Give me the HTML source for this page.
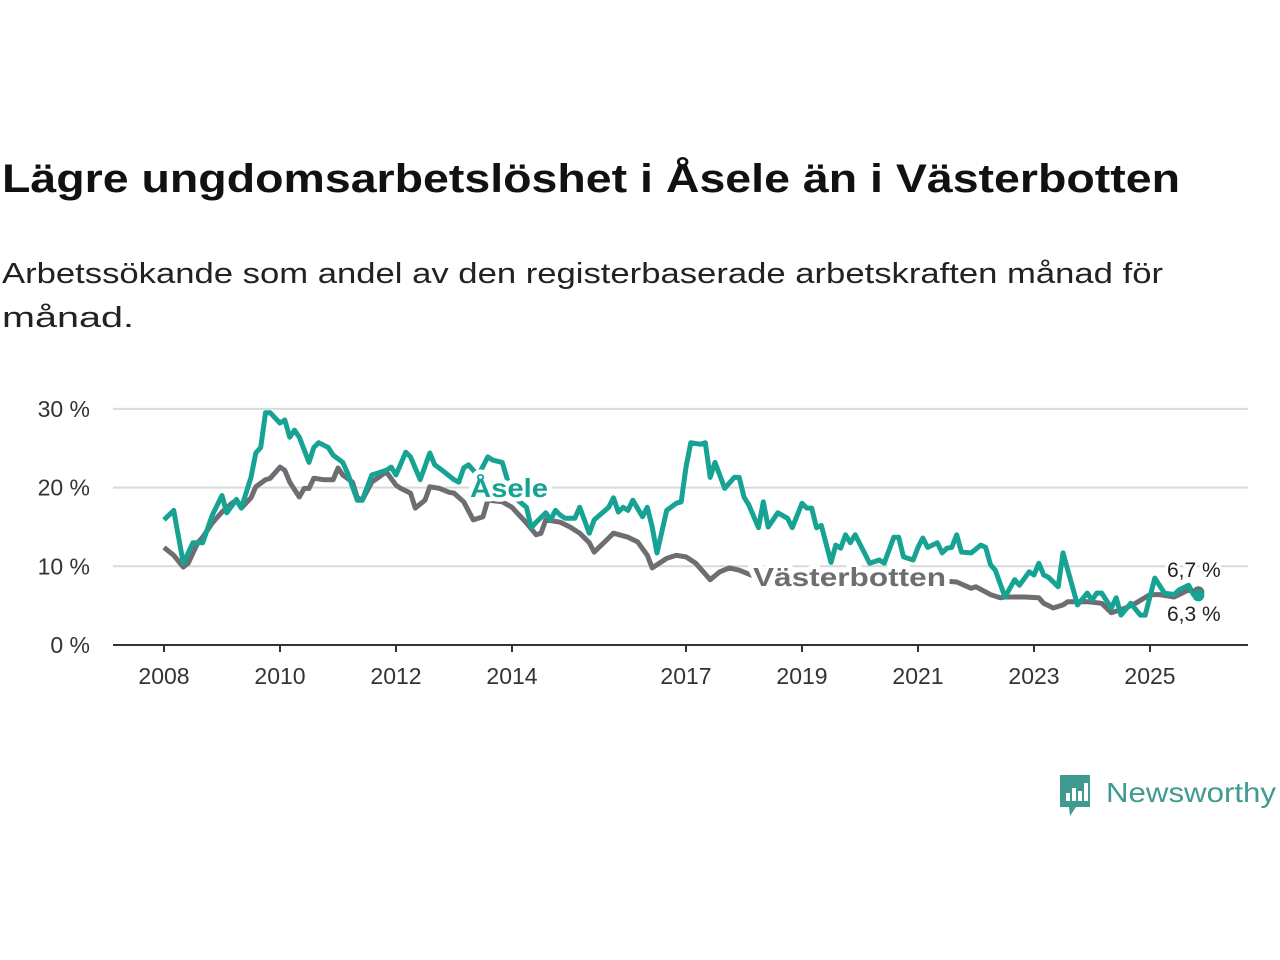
<!DOCTYPE html>
<html><head><meta charset="utf-8"><style>
html,body{margin:0;padding:0;background:#fff;}
svg{display:block;font-family:"Liberation Sans",sans-serif;}
</style></head><body>
<svg id="chart" width="1280" height="960" viewBox="0 0 1280 960">
<text x="2" y="192" font-size="40" font-weight="bold" fill="#111" textLength="1178" lengthAdjust="spacingAndGlyphs">Lägre ungdomsarbetslöshet i Åsele än i Västerbotten</text>
<text x="2" y="283" font-size="29" fill="#222" textLength="1161" lengthAdjust="spacingAndGlyphs">Arbetssökande som andel av den registerbaserade arbetskraften månad för</text>
<text x="2" y="327" font-size="29" fill="#222" textLength="132" lengthAdjust="spacingAndGlyphs">månad.</text>
<g id="grid"></g>
<g id="yticks"></g>
<g id="xticks"></g>
<g id="series"></g>
<g>
<path d="M1060 775 h30 v32 h-14 l-6 9 l-1 -9 h-9 z" fill="#3f9b8f"/>
<rect x="1066" y="793" width="4" height="8" fill="#fff"/>
<rect x="1072" y="788" width="4" height="13" fill="#fff"/>
<rect x="1078" y="791" width="4" height="10" fill="#fff"/>
<rect x="1084" y="783" width="4" height="18" fill="#fff"/>
<text x="1106" y="802" font-size="28" fill="#3f9b8f" textLength="170" lengthAdjust="spacingAndGlyphs">Newsworthy</text>
</g>
</svg>
<script>
const yTicks = [0, 10, 20, 30];
const yTickLabels = ["0 %", "10 %", "20 %", "30 %"];
const xTickYears = [2008, 2010, 2012, 2014, 2017, 2019, 2021, 2023, 2025];
const aseleMonths = [0,2,4,6,8,10,12,13,15,16,18,19,20,21,22,24,25,26,27,28,30,31,32,34,35,37,38,40,41,43,45,46,47,48,50,51,53,55,56,58,60,61,62,63,65,67,68,70,72,75,76,77,79,80,81,82,83,85,86,88,89,92,93,94,95,96,97,99,100,101,102,104,106,107,108,109,111,112,113,114,116,118,119,120,121,123,124,125,127,129,130,132,133,134,135,136,138,139,140,141,142,143,146,148,149,151,152,153,155,156,157,158,160,161,162,163,164,165,167,169,170,171,172,174,176,177,179,180,181,182,183,185,186,189,191,192,193,194,196,197,198,200,202,203,205,207,209,210,212,213,214];
const aseleValues = [15.9,17.1,10.4,13.0,13.0,16.5,19.0,16.8,18.5,17.4,21.3,24.4,25.1,29.5,29.5,28.2,28.6,26.4,27.3,26.4,23.2,25.1,25.7,25.1,24.1,23.2,21.8,18.4,18.4,21.6,22.0,22.2,22.6,21.6,24.5,23.9,21.0,24.4,22.9,22.0,21.0,20.7,22.5,22.9,21.5,23.9,23.5,23.2,19.0,17.5,14.9,15.6,16.8,15.9,17.1,16.5,16.1,16.1,17.5,14.2,15.9,17.5,18.7,16.9,17.5,17.1,18.4,16.3,17.5,15.0,11.7,17.1,18.0,18.2,22.6,25.7,25.5,25.7,21.3,23.2,19.9,21.3,21.3,18.8,17.8,14.9,18.2,15.0,16.8,16.1,14.9,18.0,17.4,17.4,14.9,15.2,10.5,12.7,12.3,14.0,13.0,14.0,10.4,10.8,10.4,13.7,13.7,11.2,10.8,12.4,13.6,12.4,13.0,11.7,12.3,12.4,14.0,11.8,11.7,12.7,12.4,10.2,9.5,6.1,8.3,7.6,9.3,8.9,10.4,8.9,8.6,7.4,11.7,5.1,6.6,5.7,6.6,6.6,4.7,6.0,3.8,5.3,3.8,3.8,8.5,6.6,6.4,7.0,7.6,6.4,6.3];
const vbMonths = [0,2,4,5,7,8,10,12,14,15,16,18,19,21,22,24,25,26,28,29,30,31,33,35,36,37,39,40,41,43,46,48,49,51,52,54,55,57,59,60,62,64,66,67,70,72,75,77,78,79,82,84,86,88,89,92,93,96,98,100,101,104,106,108,110,113,115,117,119,123,127,132,138,144,152,158,164,167,168,171,173,174,178,181,182,184,186,187,191,194,196,199,201,204,206,209,212,214];
const vbValues = [12.4,11.4,9.9,10.4,13.0,13.7,15.5,16.9,18.0,18.4,17.4,18.7,20.1,21.0,21.2,22.6,22.2,20.7,18.8,19.9,19.9,21.2,21.0,21.0,22.5,21.6,20.7,18.7,18.4,20.7,22.0,20.3,19.9,19.3,17.4,18.4,20.1,19.9,19.4,19.3,18.2,15.9,16.3,18.4,18.2,17.5,15.5,14.0,14.2,15.9,15.6,15.0,14.2,13.0,11.8,13.6,14.2,13.7,13.1,11.4,9.8,11.0,11.4,11.2,10.4,8.3,9.3,9.8,9.5,8.5,7.9,7.6,7.5,7.9,8.5,8.3,8.0,7.2,7.4,6.4,6.0,6.1,6.1,6.0,5.3,4.7,5.1,5.5,5.5,5.3,4.1,4.7,5.3,6.4,6.4,6.1,7.0,6.7];

const NS = "http://www.w3.org/2000/svg";
const X0 = 164, PX_PER_MONTH = 58/12, Y0 = 645, PX_PER_UNIT = 7.87;
function xMonth(m){ return X0 + m*PX_PER_MONTH; }
function xYear(y){ return xMonth((y-2008)*12); }
function yVal(v){ return Y0 - v*PX_PER_UNIT; }
function mk(tag, attrs, parent){ const e=document.createElementNS(NS,tag); for(const k in attrs) e.setAttribute(k,attrs[k]); parent.appendChild(e); return e; }

const grid=document.getElementById('grid'), yt=document.getElementById('yticks'), xt=document.getElementById('xticks'), ser=document.getElementById('series');
yTicks.forEach((v,i)=>{
  if(v>0){
    const l=mk('line',{x1:113,x2:1248,y1:yVal(v),y2:yVal(v),stroke:'#d9d9d9','stroke-width':2},grid);
    
    
  }
  const t=mk('text',{x:90,y:yVal(v)+8,'font-size':23,fill:'#333','text-anchor':'end'},yt);
  t.textContent=yTickLabels[i];
  
  
});
const axis=mk('line',{x1:113,x2:1248,y1:Y0,y2:Y0,stroke:'#333','stroke-width':2},xt);


xTickYears.forEach(yr=>{
  const x=xYear(yr);
  mk('line',{x1:x,x2:x,y1:Y0,y2:Y0+7,stroke:'#333','stroke-width':2},xt);
  const t=mk('text',{x:x,y:684,'font-size':23,fill:'#333','text-anchor':'middle'},xt);
  t.textContent=String(yr);
  
  
});
function path(ms,vs){ return ms.map((m,i)=>(i?'L':'M')+xMonth(m).toFixed(1)+' '+yVal(vs[i]).toFixed(1)).join(' '); }
const grey='#6e6d72', teal='#16a394';
const pv=mk('path',{d:path(vbMonths,vbValues),fill:'none',stroke:grey,'stroke-width':5,'stroke-linejoin':'round'},ser);


const pa=mk('path',{d:path(aseleMonths,aseleValues),fill:'none',stroke:teal,'stroke-width':5,'stroke-linejoin':'round'},ser);


const lvb=vbMonths.length-1, las=aseleMonths.length-1;
const d1=mk('circle',{cx:xMonth(vbMonths[lvb]),cy:yVal(vbValues[lvb]),r:6,fill:grey},ser);


const d2=mk('circle',{cx:xMonth(aseleMonths[las]),cy:yVal(aseleValues[las]),r:6,fill:teal},ser);


function label(txt,x,y,fill,size,bold,name){
  const t=mk('text',{x:x,y:y,'font-size':size,fill:fill,'font-weight':bold?'bold':'normal',stroke:'#fff','stroke-width':bold?9:6,'paint-order':'stroke','stroke-linejoin':'round'},ser);
  t.textContent=txt;
  
  
  return t;
}
const al=label('Åsele',470,497,teal,26,true,'asele-label');
al.setAttribute('textLength','78');
al.setAttribute('lengthAdjust','spacingAndGlyphs');
const vl=label('Västerbotten',753,586,grey,26,true,'vasterbotten-label');
vl.setAttribute('textLength','193');
vl.setAttribute('lengthAdjust','spacingAndGlyphs');
label(vbValues[lvb].toFixed(1).replace('.',',')+' %',1167,577,'#222',21,false,'vasterbotten-end-value');
label(aseleValues[las].toFixed(1).replace('.',',')+' %',1167,621,'#222',21,false,'asele-end-value');
</script>
</body></html>
